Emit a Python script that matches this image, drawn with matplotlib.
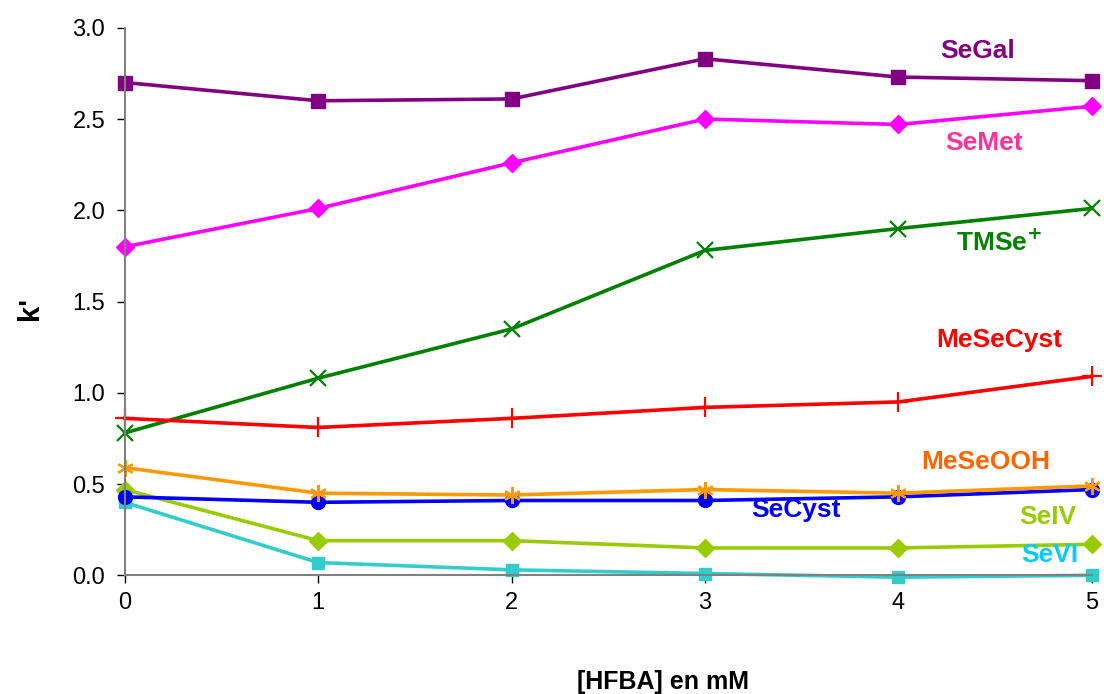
import numpy as np
import matplotlib.pyplot as plt

plt.rcParams['font.family'] = ['Liberation Sans', 'DejaVu Sans']

# HFBA concentration (mM)
hfba = [0, 1, 2, 3, 4, 5]

# k' values
segal = [2.70, 2.60, 2.61, 2.83, 2.73, 2.71]
semet = [1.80, 2.01, 2.26, 2.50, 2.47, 2.57]
tmse = [0.78, 1.08, 1.35, 1.78, 1.90, 2.01]
mesecyst = [0.86, 0.81, 0.86, 0.92, 0.95, 1.09]
meseooh = [0.59, 0.45, 0.44, 0.47, 0.45, 0.49]
secyst = [0.43, 0.40, 0.41, 0.41, 0.43, 0.47]
seiv = [0.47, 0.19, 0.19, 0.15, 0.15, 0.17]
sevi = [0.40, 0.07, 0.03, 0.01, -0.01, 0.00]

fig = plt.figure(figsize=(11.04, 6.94), dpi=100)
ax = fig.add_axes([0.113, 0.171, 0.876, 0.789])

lw = 2.6
ax.plot(hfba, segal, color='#800080', lw=lw, marker='s', ms=10, clip_on=False)
ax.plot(hfba, semet, color='#FF00FF', lw=lw, marker='D', ms=9, clip_on=False)
ax.plot(hfba, tmse, color='#008000', lw=lw, marker='x', ms=12, mew=1.6, clip_on=False)
ax.plot(hfba, mesecyst, color='#FF0000', lw=lw, marker='+', ms=14, mew=1.6, clip_on=False)
ax.plot(hfba, sevi, color='#33CCCC', lw=lw, marker='s', ms=8, clip_on=False)
ax.plot(hfba, seiv, color='#99CC00', lw=lw, marker='D', ms=9, clip_on=False)
ax.plot(hfba, secyst, color='#0000FF', lw=lw, marker='o', ms=10, clip_on=False)
ax.plot(hfba, meseooh, color='#FF9900', lw=lw, marker=(6, 2, 0), ms=12, mew=1.6, clip_on=False)

# series labels
fs = 19
ax.text(4.41, 2.87, 'SeGal', color='#800080', fontsize=fs, weight='bold', ha='center', va='center')
ax.text(4.44, 2.37, 'SeMet', color='#FF3399', fontsize=fs, weight='bold', ha='center', va='center')
ax.text(4.52, 1.82, 'TMSe$^{\\mathbf{+}}$', color='#008000', fontsize=fs, weight='bold', ha='center', va='center')
ax.text(4.52, 1.29, 'MeSeCyst', color='#FF0000', fontsize=fs, weight='bold', ha='center', va='center')
ax.text(4.45, 0.62, 'MeSeOOH', color='#FF6600', fontsize=fs, weight='bold', ha='center', va='center')
ax.text(3.47, 0.36, 'SeCyst', color='#0000FF', fontsize=fs, weight='bold', ha='center', va='center')
ax.text(4.77, 0.32, 'SeIV', color='#99CC00', fontsize=fs, weight='bold', ha='center', va='center')
ax.text(4.78, 0.11, 'SeVI', color='#00CCFF', fontsize=fs, weight='bold', ha='center', va='center')

ax.set_xlim(0, 5)
ax.set_ylim(0, 3.0)
ax.set_xticks(hfba)
ax.set_yticks(np.arange(0, 3.01, 0.5))
ax.yaxis.set_major_formatter(plt.FormatStrFormatter('%.1f'))
ax.tick_params(labelsize=17, color='black', length=6, direction='out', width=1)
ax.tick_params(axis='x', pad=6)
ax.tick_params(axis='y', pad=8)
for s in ['top', 'right']:
    ax.spines[s].set_visible(False)
for s in ['left', 'bottom']:
    ax.spines[s].set_color('#808080')
    ax.spines[s].set_linewidth(1.5)

fig.text(663 / 1104, 12 / 694, '[HFBA] en mM', fontsize=18, weight='bold', ha='center', va='center')
fig.text(30 / 1104, 1 - 308 / 694, "k'", fontsize=21, weight='bold', rotation=90, ha='center', va='center')

plt.savefig('out.png', dpi=100)
